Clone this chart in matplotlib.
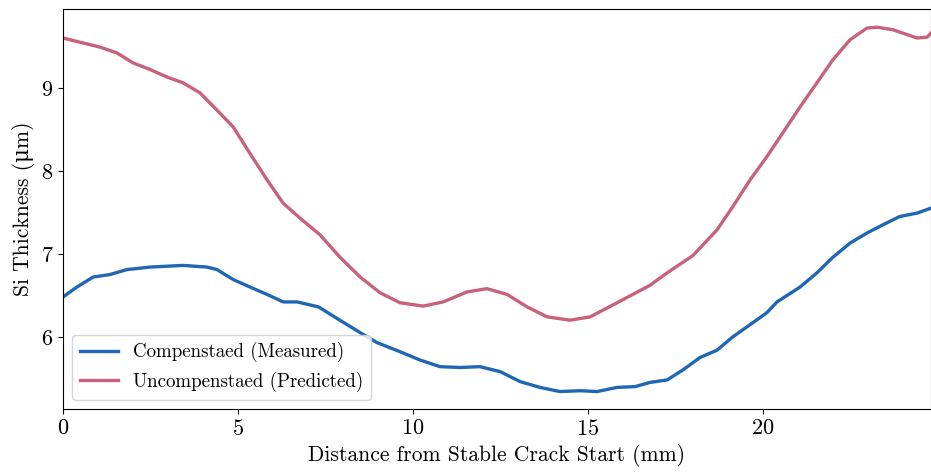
import matplotlib
matplotlib.use("Agg")
import matplotlib.pyplot as plt

plt.rcParams['font.family'] = ['cmr10', 'DejaVu Serif']
plt.rcParams['mathtext.fontset'] = 'cm'
plt.rcParams['axes.formatter.use_mathtext'] = True

# Données
x_mesure = [0.0, 0.4, 0.86, 1.34, 1.83, 2.49, 3.43, 4.11, 4.4, 4.86, 5.34, 5.83,
            6.29, 6.69, 7.3, 7.91, 8.49, 8.97, 9.63, 10.2, 10.77, 11.34, 11.91,
            12.49, 13.06, 13.63, 14.2, 14.77, 15.26, 15.83, 16.35, 16.77, 17.26,
            17.71, 18.2, 18.69, 19.14, 19.71, 20.11, 20.4, 21.06, 21.54, 22.0,
            22.49, 22.97, 23.43, 23.91, 24.4, 24.8]
y_mesure = [6.48, 6.60, 6.72, 6.75, 6.81, 6.84, 6.86, 6.84, 6.81, 6.69, 6.60, 6.51,
            6.42, 6.42, 6.36, 6.20, 6.05, 5.93, 5.82, 5.72, 5.64, 5.63, 5.64,
            5.58, 5.46, 5.39, 5.34, 5.35, 5.34, 5.39, 5.40, 5.45, 5.48,
            5.60, 5.75, 5.84, 6.00, 6.17, 6.29, 6.42, 6.60, 6.77, 6.96,
            7.13, 7.25, 7.35, 7.45, 7.49, 7.55]

x_predit = [0.0, 1.06, 1.54, 2.0, 2.49, 2.97, 3.43, 3.91, 4.4, 4.86, 5.34, 5.83,
            6.29, 6.77, 7.34, 7.91, 8.49, 9.06, 9.63, 10.29, 10.86, 11.54, 12.11,
            12.69, 13.26, 13.83, 14.49, 15.06, 15.83, 16.77, 17.26, 18.0, 18.69,
            19.14, 19.63, 20.11, 20.57, 21.06, 21.54, 22.0, 22.49, 22.97, 23.26,
            23.71, 24.4, 24.69, 24.8]
y_predit = [9.60, 9.49, 9.42, 9.30, 9.22, 9.13, 9.06, 8.94, 8.73, 8.53, 8.21, 7.89,
            7.61, 7.43, 7.23, 6.96, 6.72, 6.53, 6.41, 6.37, 6.42, 6.54, 6.58,
            6.51, 6.36, 6.24, 6.20, 6.24, 6.41, 6.62, 6.77, 6.98, 7.29,
            7.57, 7.89, 8.17, 8.46, 8.77, 9.06, 9.34, 9.58, 9.72, 9.73,
            9.70, 9.60, 9.61, 9.66]

fig = plt.figure(figsize=(9.31, 4.72), dpi=100)
ax = fig.add_axes([0.0677, 0.1335, 0.9323, 0.8475])

ax.plot(x_mesure, y_mesure, color='#1f67b4', lw=2.4, label="Compenstaed (Measured)")
ax.plot(x_predit, y_predit, color='#c8627a', lw=2.4, label="Uncompenstaed (Predicted)")

ax.set_xlim(0, 24.8)
ax.set_ylim(5.13, 9.95)
ax.set_xticks([0, 5, 10, 15, 20])
ax.set_yticks([6, 7, 8, 9])
ax.tick_params(labelsize=16)
ax.set_xlabel("Distance from Stable Crack Start (mm)", fontsize=15.5)
ax.set_ylabel("Si Thickness (μm)", fontsize=15.5)
ax.legend(loc='lower left', fontsize=13.6, handlelength=2.0)

fig.savefig("out.png", dpi=100)
